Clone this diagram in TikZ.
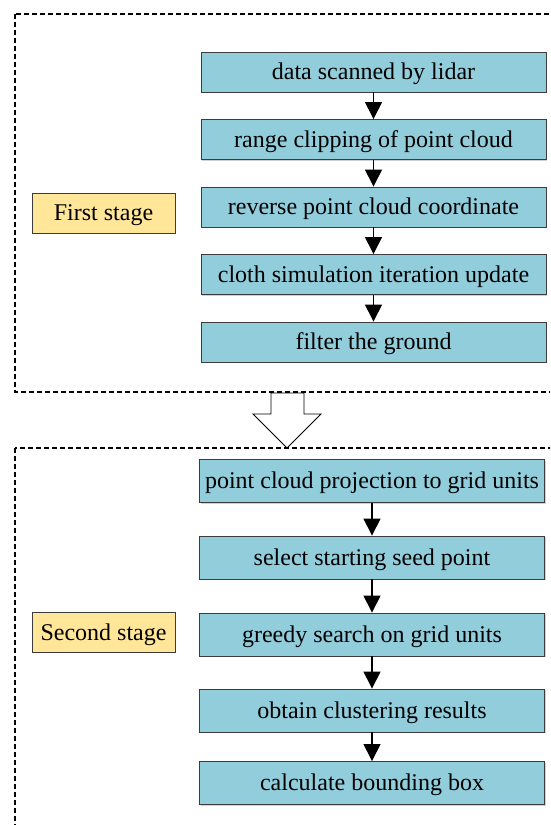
\documentclass[tikz,border=0pt]{standalone}
\usepackage{fontspec}
\setmainfont{Liberation Serif}
\usepackage{tikz}
\usetikzlibrary{positioning,arrows.meta,shadows}
\definecolor{stepblue}{RGB}{146,205,220}
\definecolor{stageyellow}{RGB}{255,230,153}
\definecolor{boxline}{RGB}{60,60,60}
\tikzset{
    stepbox/.style={draw=boxline, line width=0.9pt, fill=stepblue,
        minimum width=345pt, minimum height=40pt, inner sep=0pt,
        text height=17pt, text depth=2pt,
        drop shadow={shadow xshift=1pt, shadow yshift=-1.2pt, fill=black!30, opacity=0.6},
        font=\fontsize{24}{28}\selectfont},
    stagebox/.style={draw=boxline, line width=0.9pt, fill=stageyellow,
        minimum width=143pt, minimum height=40pt, inner sep=0pt,
        text height=17pt, text depth=2pt,
        font=\fontsize{24}{28}\selectfont},
    stageframe/.style={draw=black, line width=1.3pt, dash pattern=on 5pt off 3pt},
    flow/.style={-{Triangle[width=17pt,length=17pt]}, line width=1.4pt},
}

\begin{document}
\begin{tikzpicture}[x=1pt,y=1pt,node distance=67.5pt,on grid]
        \useasboundingbox (0,0) rectangle (550,-825);
        \clip (0,0) rectangle (550,-825);
        % dashed stage frames
        \draw[stageframe] (15,-14) rectangle (620,-392);
        \draw[stageframe] (15,-448) rectangle (620,-900);
        % first stage
        \node[stepbox] (f_0) at (373.5,-72) {data scanned by lidar};
        \node[stepbox] (f_1) [below=of f_0] {range clipping of point cloud};
        \node[stepbox] (f_2) [below=of f_1] {reverse point cloud coordinate};
        \node[stepbox] (f_3) [below=of f_2] {cloth simulation iteration update};
        \node[stepbox] (f_4) [below=of f_3] {filter the ground};
        \node[stagebox] (first) at (103.5,-213) {First stage};
        \path[flow]
        (f_0) edge (f_1)
        (f_1) edge (f_2)
        (f_2) edge (f_3)
        (f_3) edge (f_4);
        % hollow arrow between the stages
        \draw[line width=0.9pt, fill=white] (271,-393) -- (271,-414) -- (253,-414) -- (287,-448)
            -- (321,-414) -- (304,-414) -- (304,-393) -- cycle;
        % second stage
        \node[stepbox, minimum height=43pt] (s_0) at (372,-481) {point cloud projection to grid units};
        \node[stepbox, minimum height=43pt] (s_1) [below=76.5pt of s_0] {select starting seed point};
        \node[stepbox, minimum height=43pt] (s_2) [below=77pt of s_1] {greedy search on grid units};
        \node[stepbox, minimum height=43pt] (s_3) [below=76pt of s_2] {obtain clustering results};
        \node[stepbox, minimum height=43pt] (s_4) [below=72.5pt of s_3] {calculate bounding box};
        \node[stagebox] (second) at (103.5,-632.5) {Second stage};
        \path[flow]
        (s_0) edge (s_1)
        (s_1) edge (s_2)
        (s_2) edge (s_3)
        (s_3) edge (s_4);
\end{tikzpicture}
\end{document}
